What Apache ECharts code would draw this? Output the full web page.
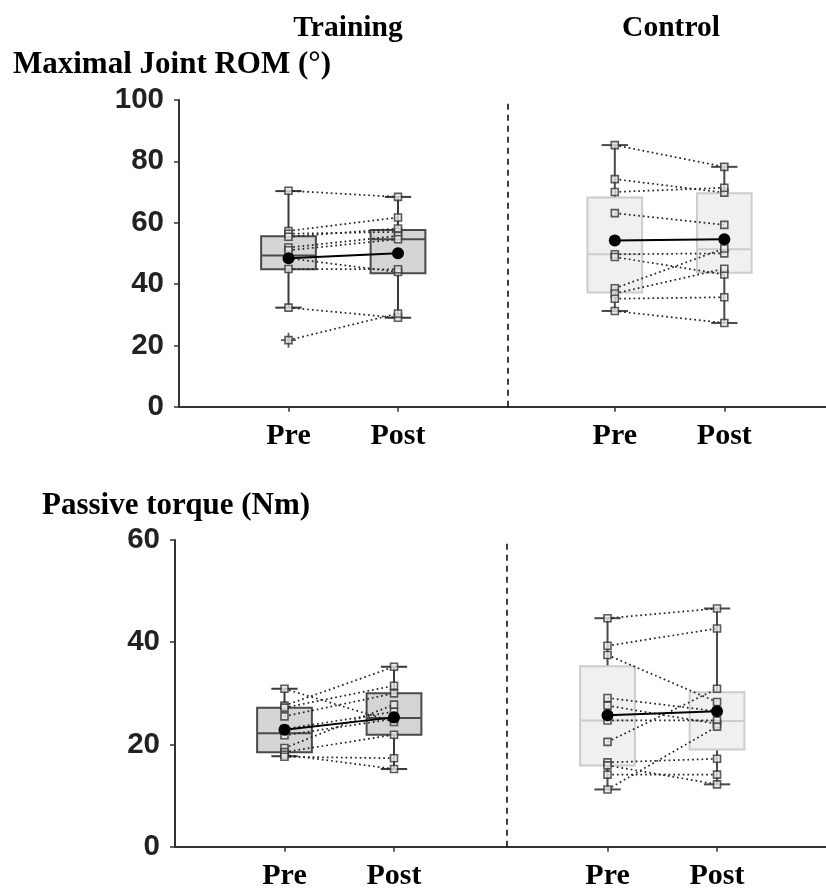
<!DOCTYPE html>
<html><head><meta charset="utf-8">
<script src="https://cdn.jsdelivr.net/npm/echarts@6/dist/echarts.min.js"></script>
<style>html,body{margin:0;padding:0;background:#fff}#c{width:826px;height:891px}</style>
</head><body><div id="c"></div>
<script>
// ---------- DATA ----------
const groups = ['Training', 'Control'];
const phases = ['Pre', 'Post'];
const romTicks = [0, 20, 40, 60, 80, 100];
const torqueTicks = [0, 20, 40, 60];

// Maximal joint ROM (deg) - individual subjects
const romTrainPre   = [70.4, 57.3, 56.4, 55.4, 51.9, 51.0, 48.4, 44.9, 32.3, 21.7];
const romTrainPost  = [68.4, 61.7, 57.0, 58.1, 55.7, 54.6, 43.9, 44.8, 29.0, 30.4];
const romCtrlPre    = [85.3, 74.2, 70.0, 63.1, 49.7, 48.8, 38.6, 36.9, 35.2, 31.2];
const romCtrlPost   = [78.2, 69.8, 71.4, 59.3, 50.0, 43.1, 51.6, 45.0, 35.7, 27.3];
// box stats [low whisker, Q1, median, Q3, high whisker]
const romTrainPreBox  = [32.3, 44.8, 49.3, 55.6, 70.3];
const romTrainPostBox = [29.0, 43.5, 54.6, 57.6, 68.4];
const romCtrlPreBox   = [31.2, 37.2, 49.7, 68.2, 85.3];
const romCtrlPostBox  = [27.3, 43.7, 51.3, 69.6, 78.2];
const romTrainPreOutliers = [21.7];
const romTrainMean = [48.4, 50.0];
const romCtrlMean  = [54.2, 54.6];

// Passive torque (Nm)
const tqTrainPre   = [30.9, 27.6, 27.2, 25.5, 23.0, 21.8, 19.3, 18.5, 18.0, 17.6];
const tqTrainPost  = [24.4, 35.2, 31.5, 30.0, 26.4, 25.0, 27.8, 21.9, 15.2, 17.3];
const tqCtrlPre    = [44.7, 39.3, 37.5, 29.1, 27.6, 24.7, 20.5, 16.5, 15.9, 14.1, 11.2];
const tqCtrlPost   = [46.6, 42.7, 28.3, 26.5, 24.0, 24.7, 30.9, 17.2, 12.2, 14.1, 23.5];
const tqTrainPreBox  = [17.7, 18.5, 22.2, 27.2, 30.9];
const tqTrainPostBox = [15.2, 21.9, 25.2, 30.0, 35.2];
const tqCtrlPreBox   = [11.2, 15.9, 24.7, 35.3, 44.7];
const tqCtrlPostBox  = [12.2, 19.0, 24.6, 30.2, 46.6];
const tqTrainMean = [22.9, 25.3];
const tqCtrlMean  = [25.7, 26.5];

// ---------- LAYOUT ----------
const SERIF = '"Liberation Serif","Times New Roman",serif';
const SANS = '"Liberation Sans",Arial,sans-serif';
const POS_TOP = {trainPre: 1, trainPost: 2, divider: 3, ctrlPre: 3.98, ctrlPost: 4.98};
const POS_BOT = {trainPre: 1, trainPost: 2, divider: 3.03, ctrlPre: 3.95, ctrlPost: 4.95};
const BOX_W = 0.5, CAP_W = 0.24;

const trainStyle = {fill: '#d5d5d5', border: '#4a4a4a', whisker: '#3a3a3a'};
const ctrlStyle  = {fill: '#f0f0f0', border: '#cccccc', whisker: '#4a4a4a'};

function boxSeries(gi, x, stats, st) {
  return {
    type: 'custom', xAxisIndex: gi, yAxisIndex: gi, z: 2, silent: true,
    data: [[x].concat(stats)],
    encode: {x: 0, y: [1, 2, 3, 4, 5]},
    renderItem: function (params, api) {
      const xv = api.value(0);
      const p = i => api.coord([xv, api.value(i)]);
      const lo = p(1), q1 = p(2), md = p(3), q3 = p(4), hi = p(5);
      const w = api.size([BOX_W, 0])[0], cw = api.size([CAP_W, 0])[0];
      const cx = lo[0];
      const ls = {stroke: st.whisker, lineWidth: 2};
      return {type: 'group', children: [
        {type: 'line', shape: {x1: cx, y1: hi[1], x2: cx, y2: lo[1]}, style: ls},
        {type: 'line', shape: {x1: cx - cw / 2, y1: hi[1], x2: cx + cw / 2, y2: hi[1]}, style: ls},
        {type: 'line', shape: {x1: cx - cw / 2, y1: lo[1], x2: cx + cw / 2, y2: lo[1]}, style: ls},
        {type: 'rect', shape: {x: cx - w / 2, y: q3[1], width: w, height: q1[1] - q3[1]},
          style: {fill: st.fill, stroke: st.border, lineWidth: 2}},
        {type: 'line', shape: {x1: cx - w / 2, y1: md[1], x2: cx + w / 2, y2: md[1]},
          style: {stroke: st.border, lineWidth: 2}}
      ]};
    }
  };
}

function pairSeries(gi, xa, xb, a, b) {
  return {
    type: 'custom', xAxisIndex: gi, yAxisIndex: gi, z: 3, silent: true,
    data: a.map((v, i) => [xa, v, xb, b[i]]),
    encode: {x: [0, 2], y: [1, 3]},
    renderItem: function (params, api) {
      const p1 = api.coord([api.value(0), api.value(1)]);
      const p2 = api.coord([api.value(2), api.value(3)]);
      return {type: 'line', shape: {x1: p1[0], y1: p1[1], x2: p2[0], y2: p2[1]},
        style: {stroke: '#222', lineWidth: 1.7, lineDash: [1.7, 3]}};
    }
  };
}

function pointSeries(gi, x, vals) {
  return {
    type: 'scatter', xAxisIndex: gi, yAxisIndex: gi, z: 4, silent: true,
    symbol: 'rect', symbolSize: 7,
    itemStyle: {color: '#e8e8e8', borderColor: '#333', borderWidth: 1.6},
    data: vals.map(v => [x, v])
  };
}

function outlierSeries(gi, x, vals) {
  return {
    type: 'scatter', xAxisIndex: gi, yAxisIndex: gi, z: 3, silent: true,
    symbol: 'path://M0,5.3H12V6.7H0Z M5.3,0H6.7V12H5.3Z', symbolSize: 15,
    itemStyle: {color: '#333'},
    data: vals.map(v => [x, v])
  };
}

function meanSeries(gi, xa, xb, m) {
  return {
    type: 'line', xAxisIndex: gi, yAxisIndex: gi, z: 5, silent: true,
    symbol: 'circle', symbolSize: 12,
    lineStyle: {color: '#000', width: 2}, itemStyle: {color: '#000'},
    data: [[xa, m[0]], [xb, m[1]]]
  };
}

function dividerSeries(gi, x) {
  return {
    type: 'line', xAxisIndex: gi, yAxisIndex: gi, data: [], silent: true,
    markLine: {symbol: 'none', silent: true, label: {show: false},
      lineStyle: {color: '#000', type: [6, 5], width: 1.5},
      data: [{xAxis: x}]}
  };
}

function xAxisDef(gi, P, max) {
  const vals = [P.trainPre, P.trainPost, P.ctrlPre, P.ctrlPost];
  return {
    type: 'value', gridIndex: gi, min: 0, max: max,
    axisLine: {show: true, onZero: false, lineStyle: {color: '#333', width: 2}},
    axisTick: {show: true, customValues: vals, length: 5, lineStyle: {color: '#333', width: 1.5}},
    axisLabel: {show: true, customValues: vals, margin: 15,
      formatter: v => (Math.abs(v - P.trainPre) < 1e-6 || Math.abs(v - P.ctrlPre) < 1e-6) ? phases[0] : phases[1],
      fontFamily: SERIF, fontWeight: 'bold', fontSize: 30, color: '#000'},
    splitLine: {show: false}
  };
}

function yAxisDef(gi, ticks) {
  return {
    type: 'value', gridIndex: gi, min: ticks[0], max: ticks[ticks.length - 1],
    interval: ticks[1] - ticks[0],
    axisLine: {show: true, lineStyle: {color: '#333', width: 2}},
    axisTick: {show: true, length: 5, lineStyle: {color: '#333', width: 1.5}},
    axisLabel: {margin: 15, fontFamily: SANS, fontWeight: 'bold', fontSize: 29.5, color: '#222'},
    splitLine: {show: false}
  };
}

const series = [
  // ROM panel
  dividerSeries(0, POS_TOP.divider),
  boxSeries(0, POS_TOP.trainPre, romTrainPreBox, trainStyle),
  boxSeries(0, POS_TOP.trainPost, romTrainPostBox, trainStyle),
  boxSeries(0, POS_TOP.ctrlPre, romCtrlPreBox, ctrlStyle),
  boxSeries(0, POS_TOP.ctrlPost, romCtrlPostBox, ctrlStyle),
  pairSeries(0, POS_TOP.trainPre, POS_TOP.trainPost, romTrainPre, romTrainPost),
  pairSeries(0, POS_TOP.ctrlPre, POS_TOP.ctrlPost, romCtrlPre, romCtrlPost),
  outlierSeries(0, POS_TOP.trainPre, romTrainPreOutliers),
  pointSeries(0, POS_TOP.trainPre, romTrainPre),
  pointSeries(0, POS_TOP.trainPost, romTrainPost),
  pointSeries(0, POS_TOP.ctrlPre, romCtrlPre),
  pointSeries(0, POS_TOP.ctrlPost, romCtrlPost),
  meanSeries(0, POS_TOP.trainPre, POS_TOP.trainPost, romTrainMean),
  meanSeries(0, POS_TOP.ctrlPre, POS_TOP.ctrlPost, romCtrlMean),
  // Torque panel
  dividerSeries(1, POS_BOT.divider),
  boxSeries(1, POS_BOT.trainPre, tqTrainPreBox, trainStyle),
  boxSeries(1, POS_BOT.trainPost, tqTrainPostBox, trainStyle),
  boxSeries(1, POS_BOT.ctrlPre, tqCtrlPreBox, ctrlStyle),
  boxSeries(1, POS_BOT.ctrlPost, tqCtrlPostBox, ctrlStyle),
  pairSeries(1, POS_BOT.trainPre, POS_BOT.trainPost, tqTrainPre, tqTrainPost),
  pairSeries(1, POS_BOT.ctrlPre, POS_BOT.ctrlPost, tqCtrlPre, tqCtrlPost),
  pointSeries(1, POS_BOT.trainPre, tqTrainPre),
  pointSeries(1, POS_BOT.trainPost, tqTrainPost),
  pointSeries(1, POS_BOT.ctrlPre, tqCtrlPre),
  pointSeries(1, POS_BOT.ctrlPost, tqCtrlPost),
  meanSeries(1, POS_BOT.trainPre, POS_BOT.trainPost, tqTrainMean),
  meanSeries(1, POS_BOT.ctrlPre, POS_BOT.ctrlPost, tqCtrlMean)
];

const chart = echarts.init(document.getElementById('c'), null, {renderer: 'canvas'});
chart.setOption({
  animation: false,
  backgroundColor: '#fff',
  title: [
    {text: groups[0], left: 343, top: 8, textAlign: 'center',
      textStyle: {fontFamily: SERIF, fontWeight: 'bold', fontSize: 29.5, color: '#000'}},
    {text: groups[1], left: 666, top: 8, textAlign: 'center',
      textStyle: {fontFamily: SERIF, fontWeight: 'bold', fontSize: 29.5, color: '#000'}},
    {text: 'Maximal Joint ROM (°)', left: 8, top: 44,
      textStyle: {fontFamily: SERIF, fontWeight: 'bold', fontSize: 31, color: '#000'}},
    {text: 'Passive torque (Nm)', left: 37, top: 485,
      textStyle: {fontFamily: SERIF, fontWeight: 'bold', fontSize: 31, color: '#000'}}
  ],
  grid: [
    {left: 179, top: 100, width: 647, height: 306.7, outerBoundsMode: 'none', containLabel: false},
    {left: 175, top: 540, width: 651, height: 306.7, outerBoundsMode: 'none', containLabel: false}
  ],
  xAxis: [xAxisDef(0, POS_TOP, 647 / 109.5), xAxisDef(1, POS_BOT, 651 / 109.5)],
  yAxis: [yAxisDef(0, romTicks), yAxisDef(1, torqueTicks)],
  series: series
});
</script></body></html>
